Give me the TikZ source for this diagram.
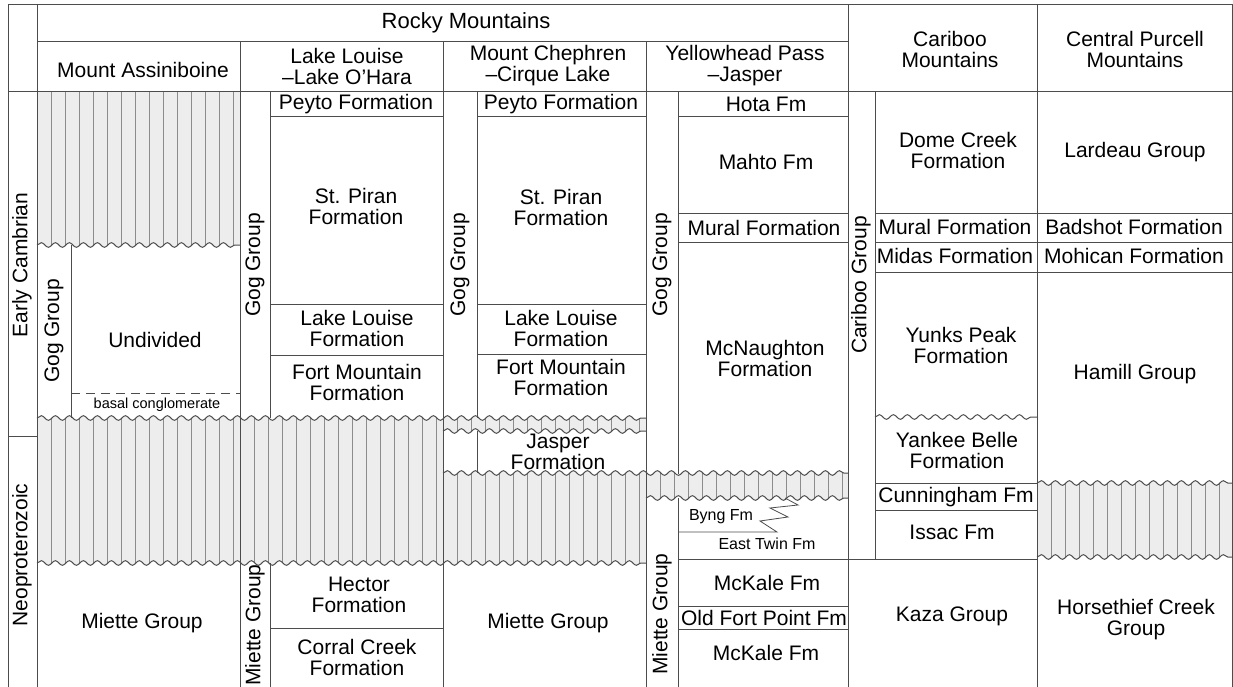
\documentclass[tikz,border=0pt]{standalone}
\usepackage{fontspec}
\setmainfont{Liberation Sans}
\usetikzlibrary{decorations.pathmorphing}

\begin{document}
\begin{tikzpicture}[x=1pt,y=-1pt]
\tikzset{rule/.style = {draw=black!70,line width=1pt}}
\tikzset{hatch/.style = {draw=black!45,line width=0.6pt}}
\tikzset{shade/.style = {fill=black!7}}
\tikzset{wavedec/.style = {decoration={snake,segment length=14pt,amplitude=2.3pt}}}
\tikzset{lbl/.style = {font=\fontsize{21}{21}\selectfont,align=center,inner sep=0pt}}
\tikzset{smalllbl/.style = {lbl,font=\fontsize{16}{18}\selectfont}}
\tikzset{tinylbl/.style = {lbl,font=\fontsize{14.5}{16}\selectfont}}

\useasboundingbox (0,0) rectangle (1233,687);

% hatched gaps
\begin{scope}
\clip decorate[wavedec]{(37,245) -- (240,245)} -- (240,0) -- (37,0) -- cycle;
\fill[shade] (37,92) rectangle (240,260);
\foreach \x in {51,65,...,233} \draw[hatch] (\x,92) -- (\x,260);
\end{scope}
\begin{scope}
\clip decorate[wavedec]{(37,418) -- (646,418)} -- (646,700) -- (37,700) -- cycle;
\clip decorate[wavedec]{(37,563) -- (646,563)} -- (646,0) -- (37,0) -- cycle;
\fill[shade] (37,400) rectangle (646,580);
\foreach \x in {51,65,...,233} \draw[hatch] (\x,400) -- (\x,580);
\foreach \x in {254,268,...,436} \draw[hatch] (\x,400) -- (\x,580);
\foreach \x in {457,471,...,639} \draw[hatch] (\x,400) -- (\x,580);
\end{scope}
\begin{scope}
\clip (443,400) rectangle (646,500);
\clip decorate[wavedec]{(443,431) -- (646,431)} -- (646,700) -- (443,700) -- cycle;
\clip decorate[wavedec]{(443,473) -- (848,473)} -- (848,0) -- (443,0) -- cycle;
\fill[white] (443,400) rectangle (646,500);
\end{scope}
\begin{scope}
\clip (646,450) rectangle (848,520);
\clip decorate[wavedec]{(443,473) -- (848,473)} -- (848,700) -- (443,700) -- cycle;
\clip decorate[wavedec]{(646,498) -- (848,498)} -- (848,0) -- (646,0) -- cycle;
\fill[shade] (646,450) rectangle (848,520);
\foreach \x in {660,674,...,842} \draw[hatch] (\x,450) -- (\x,520);
\end{scope}
\begin{scope}
\clip decorate[wavedec]{(1037,483) -- (1232,483)} -- (1232,700) -- (1037,700) -- cycle;
\clip decorate[wavedec]{(1037,557) -- (1232,557)} -- (1232,0) -- (1037,0) -- cycle;
\fill[shade] (1037,460) rectangle (1232,580);
\foreach \x in {1051,1065,...,1219} \draw[hatch] (\x,460) -- (\x,580);
\end{scope}

% unconformities
\draw[rule,wavedec,decorate] (37,245) -- (240,245);
\draw[rule,wavedec,decorate] (37,418) -- (646,418);
\draw[rule,wavedec,decorate] (443,431) -- (646,431);
\draw[rule,wavedec,decorate] (443,473) -- (848,473);
\draw[rule,wavedec,decorate] (646,498) -- (848,498);
\draw[rule,wavedec,decorate] (37,563) -- (646,563);
\draw[rule,wavedec,decorate] (875,417) -- (1037,417);
\draw[rule,wavedec,decorate] (1037,483) -- (1232,483);
\draw[rule,wavedec,decorate] (1037,557) -- (1232,557);

% table frame
\draw[rule] (8,687) -- (8,5) -- (1232,5) -- (1232,687);
\draw[rule] (37,5) -- (37,687);
\draw[rule] (37,42) -- (848,42);
\draw[rule] (8,92) -- (1232,92);
\draw[rule] (8,436) -- (37,436);
\draw[rule] (240,42) -- (240,687);
\draw[rule] (443,42) -- (443,687);
\draw[rule] (646,42) -- (646,687);
\draw[rule] (848,5) -- (848,687);
\draw[rule] (1037,5) -- (1037,687);

% group columns
\draw[rule] (71,245) -- (71,418);
\draw[rule] (270,92) -- (270,418);
\draw[rule] (270,563) -- (270,687);
\draw[rule] (477,92) -- (477,418);
\draw[rule] (477,431) -- (477,473);
\draw[rule] (678,92) -- (678,474);
\draw[rule] (678,498) -- (678,687);
\draw[rule] (875,92) -- (875,559);

% formation boundaries
\draw[rule] (270,117) -- (443,117);
\draw[rule] (270,304) -- (443,304);
\draw[rule] (270,355) -- (443,355);
\draw[rule] (270,628) -- (443,628);
\draw[rule] (477,117) -- (646,117);
\draw[rule] (477,304) -- (646,304);
\draw[rule] (477,354) -- (646,354);
\draw[rule] (678,117) -- (848,117);
\draw[rule] (678,213) -- (848,213);
\draw[rule] (678,242) -- (848,242);
\draw[rule] (678,559) -- (1037,559);
\draw[rule] (678,606) -- (848,606);
\draw[rule] (678,629) -- (848,629);
\draw[rule] (875,213) -- (1232,213);
\draw[rule] (875,242) -- (1232,242);
\draw[rule] (875,272) -- (1232,272);
\draw[rule] (875,483) -- (1037,483);
\draw[rule] (875,510) -- (1037,510);
\draw[rule,dashed,dash pattern=on 9pt off 6pt] (71,393) -- (240,393);
\draw[rule,line width=0.8pt] (678,532) -- (777,532) -- (760,521) -- (788,517)
  -- (770,508) -- (798,505) -- (785,498);

% headers
\node[lbl,font=\fontsize{22}{24}\selectfont] (rocky) at (466,23) {Rocky Mountains};
\node[lbl] (assin) at (143,70) {Mount Assiniboine};
\node[lbl] (louise) at (347,66) {Lake Louise\\–Lake O’Hara};
\node[lbl] (chephren) at (548,66) {Mount Chephren\\–Cirque Lake};
\node[lbl] (yellow) at (745,66) {Yellowhead Pass\\–Jasper};
\node[lbl] (cariboo) at (950,49) {Cariboo\\Mountains};
\node[lbl] (purcell) at (1135,49) {Central Purcell\\Mountains};

% eras
\node[lbl,rotate=90] (early) at (22,265) {Early Cambrian};
\node[lbl,rotate=90] (neo) at (22,555) {Neoproterozoic};

% Mount Assiniboine
\node[lbl,rotate=90] (gog1) at (54,331) {Gog Group};
\node[lbl] (undiv) at (155,340) {Undivided};
\node[tinylbl] (basal) at (157,405) {basal conglomerate};
\node[lbl] (miette1) at (142,623) {Miette Group};

% Lake Louise
\node[lbl,rotate=90] (gog2) at (255,265) {Gog Group};
\node[lbl] (peyto1) at (356,104) {Peyto Formation};
\node[lbl] (piran1) at (356,206) {St. Piran\\Formation};
\node[lbl] (lakel1) at (357,328) {Lake Louise\\Formation};
\node[lbl] (fortm1) at (357,382) {Fort Mountain\\Formation};
\node[lbl,rotate=90] (miette2) at (255,625) {Miette Group};
\node[lbl] (hector) at (359,595) {Hector\\Formation};
\node[lbl] (corral) at (357,657) {Corral Creek\\Formation};

% Mount Chephren
\node[lbl,rotate=90] (gog3) at (460,265) {Gog Group};
\node[lbl] (peyto2) at (561,104) {Peyto Formation};
\node[lbl] (piran2) at (561,207) {St. Piran\\Formation};
\node[lbl] (lakel2) at (561,328) {Lake Louise\\Formation};
\node[lbl] (fortm2) at (561,377) {Fort Mountain\\Formation};
\node[lbl] (jasper) at (558,452) {Jasper\\Formation};
\node[lbl] (miette3) at (548,623) {Miette Group};

% Yellowhead Pass
\node[lbl,rotate=90] (gog4) at (662,265) {Gog Group};
\node[lbl] (hota) at (766,104) {Hota Fm};
\node[lbl] (mahto) at (766,162) {Mahto Fm};
\node[lbl] (mural1) at (764,228) {Mural Formation};
\node[lbl] (mcnaught) at (765,358) {McNaughton\\Formation};
\node[smalllbl] (byng) at (721,517) {Byng Fm};
\node[smalllbl] (twin) at (767,544) {East Twin Fm};
\node[lbl,rotate=90] (miette4) at (662,614) {Miette Group};
\node[lbl] (mckale1) at (767,583) {McKale Fm};
\node[lbl] (oldfort) at (764,618) {Old Fort Point Fm};
\node[lbl] (mckale2) at (766,653) {McKale Fm};

% Cariboo
\node[lbl,rotate=90] (cgroup) at (861,285) {Cariboo Group};
\node[lbl] (dome) at (958,150) {Dome Creek\\Formation};
\node[lbl] (mural2) at (955,227) {Mural Formation};
\node[lbl] (midas) at (955,256) {Midas Formation};
\node[lbl] (yunks) at (961,345) {Yunks Peak\\Formation};
\node[lbl] (yankee) at (957,450) {Yankee Belle\\Formation};
\node[lbl] (cunning) at (956,497) {Cunningham Fm};
\node[lbl] (issac) at (952,532) {Issac Fm};
\node[lbl] (kaza) at (952,616) {Kaza Group};

% Central Purcell
\node[lbl] (lardeau) at (1135,152) {Lardeau Group};
\node[lbl] (badshot) at (1134,227) {Badshot Formation};
\node[lbl] (mohican) at (1134,256) {Mohican Formation};
\node[lbl] (hamill) at (1135,374) {Hamill Group};
\node[lbl] (horse) at (1136,620) {Horsethief Creek\\Group};
\end{tikzpicture}
\end{document}
